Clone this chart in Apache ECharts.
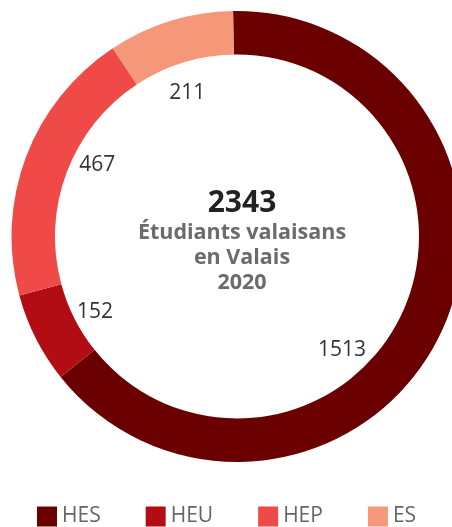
<!DOCTYPE html>
<html>
<head>
<meta charset="utf-8">
<script src="https://cdn.jsdelivr.net/npm/echarts@6/dist/echarts.min.js"></script>
<style>
  html, body { margin: 0; padding: 0; background: #fff; }
  #chart { width: 452px; height: 527px; }
</style>
</head>
<body>
<div id="chart"></div>
<script>
const categories = ['HES', 'HEU', 'HEP', 'ES']
const values = [1513, 152, 467, 211]
const colors = ['#6a0000', '#b20d15', '#ef4a48', '#f5987a']
const centerLines = ['Étudiants valaisans', 'en Valais', '2020']

const total = values.reduce((a, b) => a + b, 0)
const pieData = categories.map((name, i) => ({
  name: name,
  value: values[i],
  itemStyle: { color: colors[i] }
}))

// small nudges so the value labels sit where the original put them
const labelShift = [[-38, 46], [-1, 4], [8, -16], [-3, 7]]

const chart = echarts.init(document.getElementById('chart'))

chart.setOption({
  animation: false,
  textStyle: { fontFamily: 'Open Sans' },
  title: {
    text: '{big|' + total + '}\n' + centerLines.map(l => '{sub|' + l + '}').join('\n'),
    left: 237,
    top: 181,
    textAlign: 'center',
    textStyle: {
      rich: {
        big: { fontSize: 30, fontWeight: 'bold', color: '#222', lineHeight: 34, fontFamily: 'Open Sans' },
        sub: { fontSize: 21.5, fontWeight: 'bold', color: '#6b6b6b', lineHeight: 25, fontFamily: 'Open Sans' }
      }
    }
  },
  legend: {
    data: categories,
    left: 37,
    top: 505,
    padding: 0,
    icon: 'rect',
    itemWidth: 20,
    itemHeight: 20,
    itemGap: 45,
    textStyle: { fontSize: 21, lineHeight: 20, color: '#666', fontFamily: 'Open Sans', padding: [3, 0, 0, 0] }
  },
  series: [
    {
      name: 'ring',
      type: 'pie',
      center: [237, 236.5],
      radius: [182, 225.5],
      startAngle: 91,
      clockwise: true,
      label: { show: false },
      labelLine: { show: false },
      emphasis: { disabled: true },
      data: pieData
    },
    {
      name: 'labels',
      type: 'pie',
      center: [237, 236.5],
      radius: [135, 175],
      startAngle: 91,
      clockwise: true,
      silent: true,
      legendHoverLink: false,
      itemStyle: { color: 'rgba(0,0,0,0)' },
      label: {
        show: true,
        position: 'inside',
        formatter: '{c}',
        fontSize: 21,
        color: '#333',
        fontFamily: 'Open Sans'
      },
      labelLayout: function (p) {
        const s = labelShift[p.dataIndex]
        return { dx: s[0], dy: s[1] }
      },
      labelLine: { show: false },
      emphasis: { disabled: true },
      data: categories.map((name, i) => ({ name: name + ' ', value: values[i] }))
    }
  ]
})
</script>
</body>
</html>
